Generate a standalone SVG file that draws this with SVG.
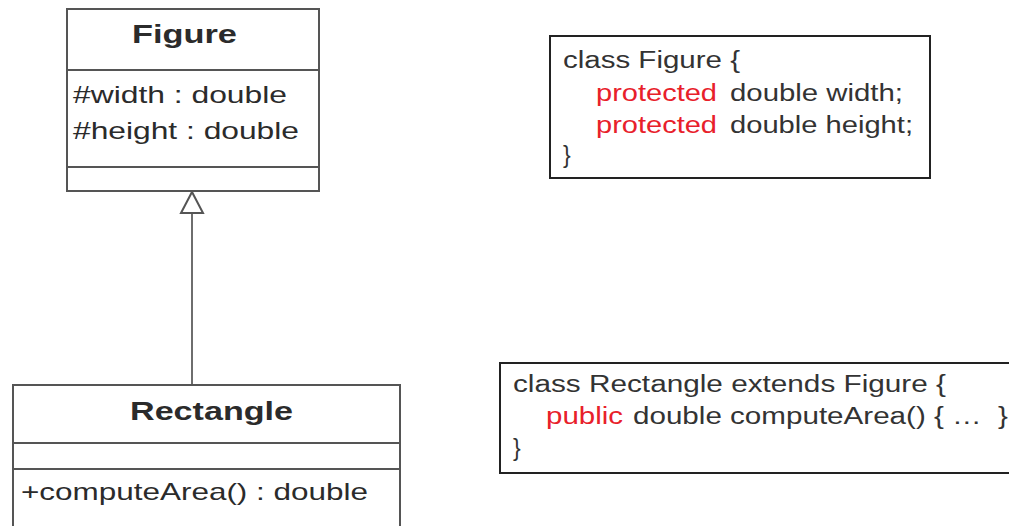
<svg xmlns="http://www.w3.org/2000/svg" width="1009" height="526" viewBox="0 0 1009 526">
  <style>
    text { font-family: "Liberation Sans", Arial, sans-serif; fill: #2b2b2b; white-space: pre; }
    .title { font-size: 25px; font-weight: bold; }
    .member { font-size: 24px; }
    .code { font-size: 23px; fill: #333333; }
    .kw { fill: #e8202a; }
    .uml { fill: #ffffff; stroke: #555555; stroke-width: 2; }
    .sep { stroke: #555555; stroke-width: 2; }
    .codebox { fill: #ffffff; stroke: #222222; stroke-width: 2; }
    .inherit { fill: none; stroke: #6e6e6e; stroke-width: 2; }
  </style>
  <defs>
    <marker id="hollowTriangle" markerUnits="userSpaceOnUse" markerWidth="26" markerHeight="26" viewBox="-2 -2 26 26" refX="21" refY="11" orient="auto">
      <path d="M0,0 L21,11 L0,22 Z" fill="#ffffff" stroke="#555555" stroke-width="2"/>
    </marker>
  </defs>
  <rect width="1009" height="526" fill="#ffffff"/>

  <!-- generalization: Rectangle -> Figure -->
  <g id="connectors">
    <path class="inherit" d="M192,385 L192,192" marker-end="url(#hollowTriangle)"/>
  </g>

  <!-- UML class Figure -->
  <g id="figure-class">
    <rect class="uml" x="67" y="9" width="252" height="182"/>
    <line class="sep" x1="67" y1="70" x2="319" y2="70"/>
    <line class="sep" x1="67" y1="167" x2="319" y2="167"/>
    <text class="title" x="132" y="43" textLength="105" lengthAdjust="spacingAndGlyphs">Figure</text>
    <text class="member" x="73" y="103" textLength="214" lengthAdjust="spacingAndGlyphs">#width : double</text>
    <text class="member" x="73" y="139" textLength="226" lengthAdjust="spacingAndGlyphs">#height : double</text>
  </g>

  <!-- UML class Rectangle -->
  <g id="rectangle-class">
    <rect class="uml" x="13" y="385" width="387" height="160"/>
    <line class="sep" x1="13" y1="443" x2="400" y2="443"/>
    <line class="sep" x1="13" y1="469" x2="400" y2="469"/>
    <text class="title" x="130" y="420" textLength="163" lengthAdjust="spacingAndGlyphs">Rectangle</text>
    <text class="member" x="21" y="500" textLength="347" lengthAdjust="spacingAndGlyphs">+computeArea() : double</text>
  </g>

  <!-- Java source for Figure -->
  <g id="figure-code">
    <rect class="codebox" x="550" y="36" width="380" height="142"/>
    <text class="code" x="563" y="68" textLength="177" lengthAdjust="spacingAndGlyphs">class Figure {</text>
    <text class="code kw" x="596" y="101" textLength="121" lengthAdjust="spacingAndGlyphs">protected</text>
    <text class="code" x="730" y="101" textLength="173" lengthAdjust="spacingAndGlyphs">double width;</text>
    <text class="code kw" x="596" y="133" textLength="121" lengthAdjust="spacingAndGlyphs">protected</text>
    <text class="code" x="730" y="133" textLength="183" lengthAdjust="spacingAndGlyphs">double height;</text>
    <text class="code" x="563" y="163">}</text>
  </g>

  <!-- Java source for Rectangle -->
  <g id="rectangle-code">
    <rect class="codebox" x="500" y="363" width="530" height="110"/>
    <text class="code" x="513" y="392" textLength="433" lengthAdjust="spacingAndGlyphs">class Rectangle extends Figure {</text>
    <text class="code kw" x="546" y="424" textLength="77" lengthAdjust="spacingAndGlyphs">public</text>
    <text class="code" x="633" y="424" textLength="375" lengthAdjust="spacingAndGlyphs">double computeArea() { …  }</text>
    <text class="code" x="513" y="456">}</text>
  </g>
</svg>
